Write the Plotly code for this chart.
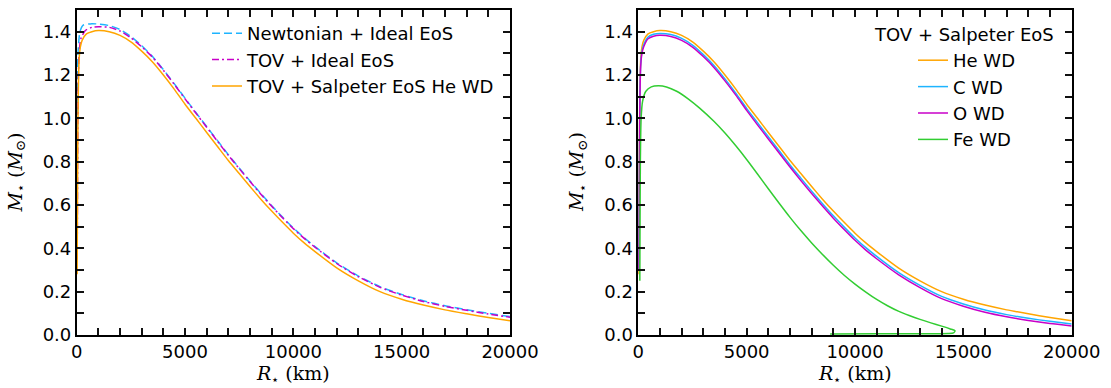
import plotly.graph_objects as go

# ---------------- data ----------------
R_main = [1000, 1500, 2000, 2500, 3000, 3500, 4000, 4500, 5000, 5500, 6000, 6500, 7000, 7500,
          8000, 8500, 9000, 9500, 10000, 10500, 11000, 12000, 13000, 14000, 15000, 16000,
          17000, 18000, 19000, 20000]

R_newt_core = [15, 25, 35, 60, 150, 300, 700]
M_newt_core = [0.35, 0.7, 1.1, 1.3, 1.40, 1.43, 1.437]
M_newt = [1.435, 1.428, 1.41, 1.378, 1.335, 1.285, 1.225, 1.16, 1.093, 1.027, 0.962, 0.897, 0.832, 0.771,
          0.711, 0.653, 0.597, 0.544, 0.494, 0.449, 0.408, 0.333, 0.272, 0.223, 0.187, 0.158,
          0.135, 0.117, 0.10, 0.085]

R_tov_core = [20, 30, 45, 70, 110, 200, 400, 700]
M_tov_core = [0.35, 0.5, 0.85, 1.15, 1.3, 1.37, 1.405, 1.42]
M_tov = [1.423, 1.42, 1.403, 1.372, 1.33, 1.282, 1.222, 1.157, 1.09, 1.024, 0.959, 0.894, 0.829, 0.768,
         0.708, 0.65, 0.594, 0.541, 0.491, 0.446, 0.405, 0.33, 0.269, 0.22, 0.184, 0.155,
         0.132, 0.114, 0.097, 0.082]

R_he_core = [20, 30, 45, 70, 110, 170, 250, 450, 700]
M_he_core = [0.28, 0.5, 0.8, 1.1, 1.27, 1.33, 1.36, 1.39, 1.40]
M_he = [1.405, 1.40, 1.383, 1.353, 1.31, 1.26, 1.20, 1.135, 1.065, 1.0, 0.935, 0.87, 0.805, 0.745,
        0.685, 0.627, 0.572, 0.52, 0.47, 0.425, 0.385, 0.31, 0.25, 0.20, 0.165, 0.138,
        0.116, 0.098, 0.081, 0.066]

R_c_core = [20, 35, 50, 75, 110, 170, 250, 450, 700]
M_c_core = [0.3, 0.55, 0.8, 1.1, 1.25, 1.31, 1.34, 1.375, 1.388]
M_c = [1.392, 1.387, 1.369, 1.338, 1.294, 1.243, 1.182, 1.116, 1.046, 0.98, 0.915, 0.85, 0.785, 0.724,
       0.664, 0.606, 0.55, 0.498, 0.448, 0.403, 0.363, 0.289, 0.229, 0.178, 0.143, 0.115,
       0.094, 0.077, 0.063, 0.051]

R_o_core = [20, 30, 45, 70, 110, 170, 250, 450, 700]
M_o_core = [0.3, 0.45, 0.7, 1.05, 1.24, 1.30, 1.33, 1.367, 1.379]
M_o = [1.383, 1.378, 1.36, 1.329, 1.285, 1.234, 1.173, 1.107, 1.037, 0.97, 0.905, 0.84, 0.775, 0.713,
       0.653, 0.595, 0.539, 0.487, 0.437, 0.392, 0.352, 0.279, 0.219, 0.168, 0.133, 0.105,
       0.084, 0.067, 0.053, 0.042]

R_fe = [70, 80, 95, 130, 200, 350, 600, 923, 1300, 1770, 2300, 2830, 3500, 4000, 4500, 5000,
        5500, 6000, 6500, 7000, 7500, 8000, 8500, 9000, 9500, 10000, 10500, 11000, 11500, 12000,
        12500, 13000, 13500, 14000, 14400, 14615, 14550, 14300, 13000, 11000, 8850]
M_fe = [0.25, 0.5, 0.8, 1.0, 1.08, 1.125, 1.145, 1.15, 1.145, 1.125, 1.09, 1.047, 0.985, 0.932, 0.873, 0.81,
        0.743, 0.675, 0.608, 0.543, 0.482, 0.425, 0.372, 0.322, 0.276, 0.235, 0.198, 0.164, 0.135, 0.11,
        0.09, 0.072, 0.056, 0.041, 0.028, 0.02, 0.01, 0.007, 0.006, 0.006, 0.005]

# tick positions (every minor step) and labels (only at the major steps)
x_tick_vals = [0, 1000, 2000, 3000, 4000, 5000, 6000, 7000, 8000, 9000, 10000,
               11000, 12000, 13000, 14000, 15000, 16000, 17000, 18000, 19000, 20000]
x_tick_text = ["0", "", "", "", "", "5000", "", "", "", "", "10000",
               "", "", "", "", "15000", "", "", "", "", "20000"]
y_tick_vals = [0.0, 0.1, 0.2, 0.3, 0.4, 0.5, 0.6, 0.7, 0.8, 0.9, 1.0, 1.1, 1.2, 1.3, 1.4]
y_tick_text = ["0.0", "", "0.2", "", "0.4", "", "0.6", "", "0.8", "", "1.0", "", "1.2", "", "1.4"]

# ---------------- styling ----------------
W, H = 1111, 388
C_ORANGE = "#FFA500"
C_BLUE = "#1EB4FF"
C_MAG = "#C800C8"
C_GREEN = "#32CD32"
FONT = "DejaVu Sans"
FS = 18
LW = 1.5
SM = 0.6
TCOL = "#111111"
TW = 2

fig = go.Figure()


def line(x, y, name, color, axes, legend, dash=None, show=True):
    fig.add_trace(go.Scatter(x=x, y=y, mode="lines", name=name, showlegend=show,
                             line=dict(color=color, width=LW, dash=dash, shape="spline", smoothing=SM),
                             xaxis=axes[0], yaxis=axes[1], legend=legend))


line(R_newt_core + R_main, M_newt_core + M_newt, "Newtonian + Ideal EoS", C_BLUE, ("x", "y"), "legend",
     dash="8px,4px")
line(R_tov_core + R_main, M_tov_core + M_tov, "TOV + Ideal EoS", C_MAG, ("x", "y"), "legend",
     dash="7px,3px,2px,3px")
line(R_he_core + R_main, M_he_core + M_he, "TOV + Salpeter EoS He WD", C_ORANGE, ("x", "y"), "legend")

line(R_he_core + R_main, M_he_core + M_he, "He WD", C_ORANGE, ("x2", "y2"), "legend2")
line(R_c_core + R_main, M_c_core + M_c, "C WD", C_BLUE, ("x2", "y2"), "legend2")
line(R_o_core + R_main, M_o_core + M_o, "O WD", C_MAG, ("x2", "y2"), "legend2")
line(R_fe, M_fe, "Fe WD", C_GREEN, ("x2", "y2"), "legend2")

px_x = lambda p: p / W
px_y = lambda p: 1 - p / H

left_dom = [px_x(76.7), px_x(510.0)]
right_dom = [px_x(638.3), px_x(1071.7)]
y_dom = [px_y(335.0), px_y(10.0)]


def xaxis_cfg(dom, anchor):
    return dict(domain=dom, anchor=anchor, range=[0, 20000],
                tickmode="array", tickvals=x_tick_vals, ticktext=x_tick_text,
                ticks="inside", ticklen=7, tickwidth=TW, tickcolor=TCOL,
                showline=True, linecolor="black", linewidth=1.6, mirror="allticks",
                showgrid=False, zeroline=False,
                tickfont=dict(family=FONT, size=FS, color="black"))


def yaxis_cfg(anchor):
    return dict(domain=y_dom, anchor=anchor, range=[0, 1.5],
                tickmode="array", tickvals=y_tick_vals, ticktext=y_tick_text,
                ticks="inside", ticklen=7, tickwidth=TW, tickcolor=TCOL,
                showline=True, linecolor="black", linewidth=1.6, mirror="allticks",
                showgrid=False, zeroline=False,
                tickfont=dict(family=FONT, size=FS, color="black"))


ytitle = "<i>M</i><sub>⋆</sub> (<i>M</i><sub>⊙</sub>)"
xtitle = "<i>R</i><sub>⋆</sub> (km)"
tfont = dict(family="DejaVu Serif", size=19, color="black")

annotations = [
    dict(text=ytitle, x=px_x(16), y=px_y(172.5), xref="paper", yref="paper", textangle=-90,
         showarrow=False, font=tfont, xanchor="center", yanchor="middle"),
    dict(text=ytitle, x=px_x(577.6), y=px_y(172.5), xref="paper", yref="paper", textangle=-90,
         showarrow=False, font=tfont, xanchor="center", yanchor="middle"),
    dict(text=xtitle, x=px_x(293.3), y=px_y(374), xref="paper", yref="paper",
         showarrow=False, font=tfont, xanchor="center", yanchor="middle"),
    dict(text=xtitle, x=px_x(855), y=px_y(374), xref="paper", yref="paper",
         showarrow=False, font=tfont, xanchor="center", yanchor="middle"),
    dict(text="TOV + Salpeter EoS", x=px_x(1056), y=px_y(34), xref="paper", yref="paper",
         showarrow=False, font=dict(family=FONT, size=FS, color="black"),
         xanchor="right", yanchor="middle"),
]

fig.update_layout(
    width=W, height=H,
    margin=dict(l=0, r=0, t=0, b=0, autoexpand=False),
    paper_bgcolor="white", plot_bgcolor="white",
    font=dict(family=FONT, size=FS, color="black"),
    xaxis=xaxis_cfg(left_dom, "y"),
    yaxis=yaxis_cfg("x"),
    xaxis2=xaxis_cfg(right_dom, "y2"),
    yaxis2=yaxis_cfg("x2"),
    legend=dict(x=px_x(207), y=px_y(15), xanchor="left", yanchor="top",
                bgcolor="rgba(0,0,0,0)", borderwidth=0,
                font=dict(family=FONT, size=FS, color="black"), tracegroupgap=0),
    legend2=dict(x=px_x(913), y=px_y(42), xanchor="left", yanchor="top",
                 bgcolor="rgba(0,0,0,0)", borderwidth=0,
                 font=dict(family=FONT, size=FS, color="black"), tracegroupgap=0),
    annotations=annotations,
    showlegend=True,
)

fig.write_html("out.html")
